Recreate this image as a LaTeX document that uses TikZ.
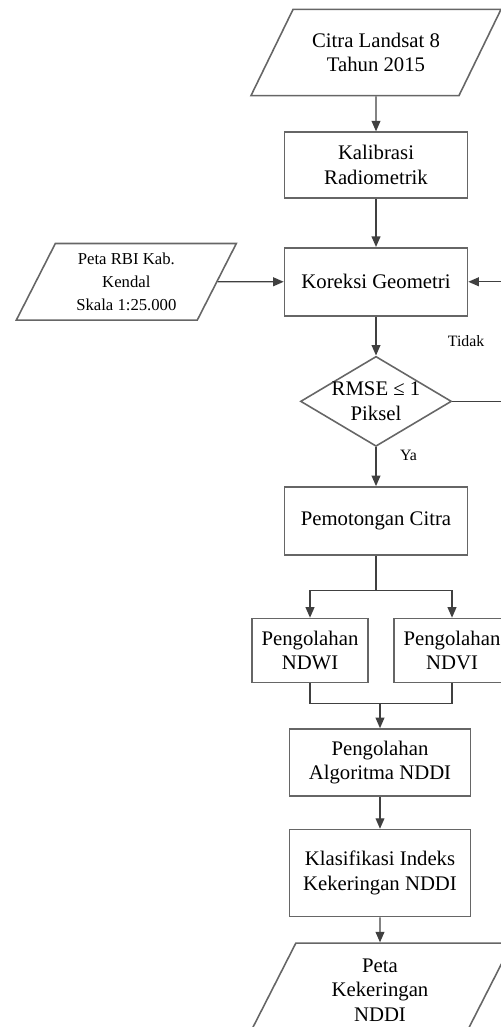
\documentclass[tikz,border=0pt]{standalone}
\usepackage{fontspec}
\setmainfont{Liberation Serif}
\usetikzlibrary{positioning, shapes.geometric, arrows.meta}

\begin{document}
\begin{tikzpicture}[
  node distance=0.8cm,
  block/.style={
    rectangle,
    draw=black!60,
    line width=0.9pt,
    align=center,
    minimum width=3.66cm,
    minimum height=1.34cm,
    inner sep=2pt,
    font=\fontsize{11.8}{14}\selectfont
  },
  data/.style={
    trapezium,
    trapezium left angle=64,
    trapezium right angle=116,
    trapezium stretches body,
    draw=black!60,
    line width=0.9pt,
    align=center,
    inner xsep=2pt,
    font=\fontsize{11.8}{14}\selectfont
  },
  decision/.style={
    diamond,
    draw=black!60,
    line width=0.9pt,
    align=center,
    aspect=1.68,
    inner sep=-4pt,
    minimum width=3.02cm,
    minimum height=1.8cm,
    font=\fontsize{11.8}{14}\selectfont
  },
  note/.style={font=\fontsize{9}{10}\selectfont},
  line/.style={line width=0.8pt, draw=black!75},
  arrow/.style={-{Triangle[length=6pt,width=5pt]}, line width=0.8pt, draw=black!75}
]
\useasboundingbox (0,0) rectangle (10.02,-20.54);

\node[data, minimum width=5cm, inner ysep=0.47cm] (citra) at (7.52,-1.05) {Citra Landsat 8\\Tahun 2015};
\node[block, minimum height=1.32cm, below=0.7cm of citra] (kalibrasi) {Kalibrasi\\Radiometrik};
\node[block, minimum height=1.36cm, below=0.96cm of kalibrasi] (koreksi) {Koreksi Geometri};
\node[data, minimum width=4.4cm, inner ysep=0.18cm, trapezium left angle=63, trapezium right angle=117,
  font=\fontsize{9.5}{13.3}\selectfont, left=1.32cm of koreksi] (petarbi) {Peta RBI Kab.\\Kendal\\Skala 1:25.000};
\node[decision, below=0.78cm of koreksi] (rmse) {RMSE ≤ 1\\Piksel};
\node[block, minimum height=1.36cm, below=0.78cm of rmse] (potong) {Pemotongan Citra};
\node[block, minimum width=2.32cm, minimum height=1.28cm, below=1.24cm of potong, xshift=-1.32cm] (ndwi) {Pengolahan\\NDWI};
\node[block, minimum width=2.32cm, minimum height=1.28cm, below=1.24cm of potong, xshift=1.52cm] (ndvi) {Pengolahan\\NDVI};
\node[block, minimum width=3.62cm] (algoritma) at (7.6,-15.25) {Pengolahan\\Algoritma NDDI};
\node[block, minimum width=3.62cm, minimum height=1.74cm, below=0.64cm of algoritma] (klasifikasi) {Klasifikasi Indeks\\Kekeringan NDDI};
\node[data, minimum width=5.28cm, inner ysep=0.31cm, trapezium left angle=63, trapezium right angle=117,
  below=0.5cm of klasifikasi] (petakk) {Peta\\Kekeringan\\NDDI};

\draw[arrow] (citra) -- (kalibrasi);
\draw[arrow] (kalibrasi) -- (koreksi);
\draw[arrow] (petarbi) -- (koreksi);
\draw[arrow] (koreksi) -- (rmse);
\draw[arrow] (rmse.east) -- ++(1.12,0) |- node[note, pos=0.25, left=0.35cm] {Tidak} (koreksi.east);
\draw[arrow] (rmse) -- node[note, pos=0.2, right=0.35cm] {Ya} (potong);
\draw[line] (potong.south) -- ++(0,-0.7) coordinate (split);
\draw[arrow] (split) -| (ndwi.north);
\draw[arrow] (split) -| (ndvi.north);
\draw[line] (ndwi.south) -- ++(0,-0.4) coordinate (merge) -| (ndvi.south);
\draw[arrow] (merge -| algoritma.north) -- (algoritma.north);
\draw[arrow] (algoritma) -- (klasifikasi);
\draw[arrow] (klasifikasi) -- (petakk);

\end{tikzpicture}
\end{document}
